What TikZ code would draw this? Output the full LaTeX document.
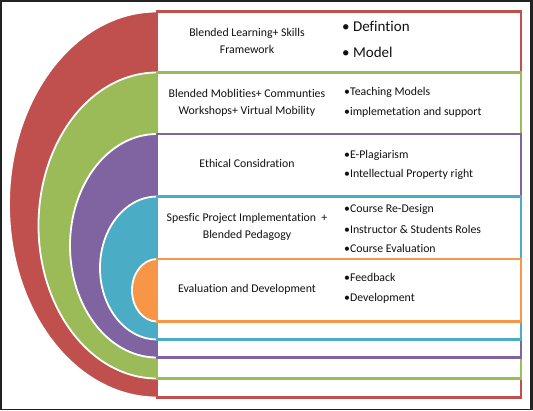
\documentclass[tikz,border=0pt]{standalone}
\usepackage{fontspec}
\setmainfont[Ligatures=NoCommon]{Carlito}
\definecolor{cred}{HTML}{C0504D}
\definecolor{cgreen}{HTML}{9BBB59}
\definecolor{cpurple}{HTML}{8064A2}
\definecolor{cblue}{HTML}{4BACC6}
\definecolor{corange}{HTML}{F79646}
\definecolor{ctext}{HTML}{111111}
\definecolor{cframe}{HTML}{222222}
\tikzset{
  halfdisk/.style={draw=white, line width=1.8pt},
  band/.style={line width=2.2pt, fill=white},
  lbl/.style={font=\fontsize{11.8}{14}\selectfont, text=ctext, align=center, inner sep=0pt},
  itm/.style={font=\fontsize{11.8}{14}\selectfont, text=ctext, anchor=west, inner sep=0pt},
  bigitm/.style={font=\fontsize{15}{18}\selectfont, text=ctext, anchor=west, inner sep=0pt}
}
\begin{document}
\begin{tikzpicture}[x=1pt,y=-1pt]
\useasboundingbox (0,0) rectangle (533,410);
% frame
\fill[cframe] (0,0) rectangle (533,410);
\fill[white] (2,1.5) rectangle (530,408.5);
% half disks
\filldraw[fill=cred, halfdisk] (157,11.5) arc[start angle=90, end angle=270, x radius=148pt, y radius=193pt] -- cycle;
\filldraw[fill=cgreen, halfdisk] (157,72.5) arc[start angle=90, end angle=270, x radius=118.5pt, y radius=153pt] -- cycle;
\filldraw[fill=cpurple, halfdisk] (157,134) arc[start angle=90, end angle=270, x radius=87pt, y radius=111.75pt] -- cycle;
\filldraw[fill=cblue, halfdisk] (157,196.5) arc[start angle=90, end angle=270, x radius=57pt, y radius=71.5pt] -- cycle;
\filldraw[fill=corange, halfdisk] (157,259) arc[start angle=90, end angle=270, x radius=25pt, y radius=31.25pt] -- cycle;
% bands
\draw[band, draw=cred] (157,11.5) rectangle (521,397.5);
\draw[band, draw=cgreen] (157,72.5) rectangle (521,378.5);
\draw[band, draw=cpurple] (157,134) rectangle (521,357.5);
\draw[band, draw=cblue] (157,196.5) rectangle (521,339.5);
\draw[band, draw=corange] (157,259) rectangle (521,321.5);
% labels
\node[lbl] (l1) at (247,40.5) {Blended Learning+ Skills\\[3pt]Framework};
\node[lbl] (l2) at (247,102.5) {Blended Moblities+ Communties\\[3pt]Workshops+ Virtual Mobility};
\node[lbl] (l3) at (247,163.5) {Ethical Considration};
\node[lbl] (l4) at (247,227) {Spesfic Project Implementation \ +\\[3pt]Blended Pedagogy};
\node[lbl] (l5) at (247,289.5) {Evaluation and Development};
% items
\node[bigitm] (d1) at (342,26.5) {• Defintion};
\node[bigitm] (d2) at (342,52.5) {• Model};
\node[itm] (t1) at (344,92.5) {•Teaching Models};
\node[itm] (t2) at (344,112.5) {•implemetation and support};
\node[itm] (e1) at (344,155) {•E-Plagiarism};
\node[itm] (e2) at (344,174.5) {•Intellectual Property right};
\node[itm] (c1) at (344,209.5) {•Course Re-Design};
\node[itm] (c2) at (344,229) {•Instructor \& Students Roles};
\node[itm] (c3) at (344,248.5) {•Course Evaluation};
\node[itm] (f1) at (344,277.5) {•Feedback};
\node[itm] (f2) at (344,298) {•Development};
\end{tikzpicture}
\end{document}
